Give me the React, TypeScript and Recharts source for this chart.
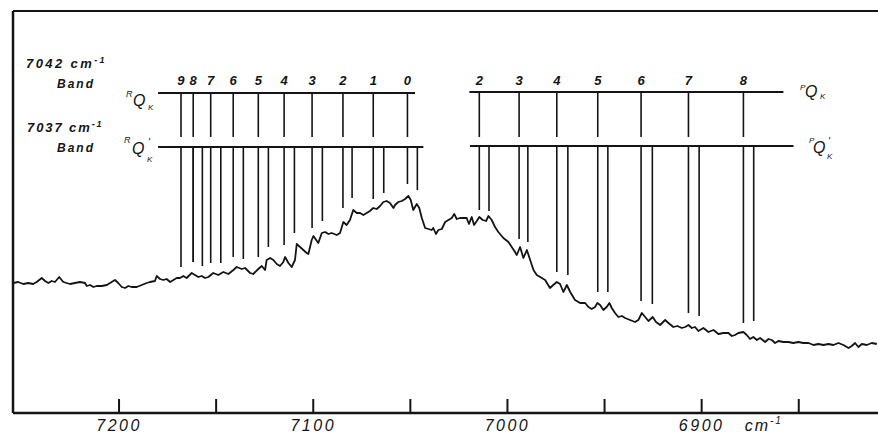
import React from 'react';
import { ComposedChart, Line, XAxis, YAxis, ReferenceLine, ReferenceDot } from 'recharts';

// spectrum (wavenumber in cm-1, signal in arbitrary units)
const WAVENUMBER = [
  7254.5, 7251.9, 7249.3, 7246.7, 7244.2, 7242.4, 7239.8, 7238.1, 7236.4, 7234.7, 7233.0, 7230.8, 7228.7, 7227.0,
  7225.2, 7222.7, 7220.1, 7217.5, 7216.6, 7214.9, 7213.2, 7211.5, 7208.9, 7206.3, 7203.8, 7202.1, 7200.4, 7198.6,
  7196.9, 7195.2, 7193.5, 7190.9, 7188.3, 7185.8, 7184.1, 7181.5, 7180.6, 7178.9, 7177.2, 7175.5, 7173.7, 7172.0,
  7170.3, 7168.6, 7166.9, 7165.2, 7162.6, 7160.9, 7159.2, 7157.4, 7155.7,
  7154.0, 7151.5, 7148.9, 7146.3, 7143.7, 7141.1, 7139.4, 7136.8, 7135.1, 7132.5, 7130.9, 7128.3, 7126.5, 7124.8,
  7124.0, 7122.2, 7120.5, 7118.8, 7117.1, 7115.4, 7114.5, 7112.8, 7111.1, 7109.4, 7108.5, 7106.8, 7105.1, 7103.4,
  7102.5, 7100.8, 7099.9, 7097.4, 7095.6, 7093.9, 7092.2, 7090.5, 7087.9, 7086.2, 7084.5, 7082.8, 7081.1, 7079.4,
  7077.6, 7075.9, 7074.2, 7072.5, 7070.8, 7069.1, 7067.3, 7065.6, 7063.9, 7062.2, 7060.5, 7058.7, 7057.9, 7056.2,
  7054.4, 7052.7, 7051.0, 7049.8, 7048.5, 7046.7, 7045.4, 7044.1, 7042.4, 7040.7, 7039.0, 7038.2, 7036.8, 7035.6,
  7033.8, 7032.1, 7030.4, 7028.7, 7027.4, 7026.1, 7024.4, 7022.7, 7021.0, 7019.8, 7018.4, 7017.2, 7015.8, 7014.5,
  7012.7, 7011.0, 7009.8, 7008.1, 7006.4, 7004.7, 7002.1, 6999.5, 6997.8, 6996.1, 6995.2, 6993.5, 6991.8, 6990.0,
  6988.3, 6986.6, 6984.9, 6982.3, 6980.6, 6978.1, 6976.4, 6974.6, 6972.9, 6971.2, 6969.4, 6967.7, 6965.2,
  6962.6, 6960.0, 6958.3, 6956.6, 6954.9, 6953.7, 6952.3, 6950.6, 6948.9, 6947.5, 6946.3, 6944.6, 6942.9, 6941.1,
  6939.4, 6936.9, 6934.3, 6932.6, 6930.8, 6929.1, 6927.4, 6925.2, 6923.5, 6921.4, 6918.8, 6917.1, 6914.6, 6912.5,
  6910.2, 6908.5, 6906.8, 6905.1, 6903.4, 6901.7, 6899.1, 6896.5, 6893.9, 6891.4, 6888.8,
  6886.2, 6884.5, 6882.8, 6881.1, 6878.5, 6876.8, 6875.1, 6873.4, 6871.6, 6869.9, 6867.3, 6865.6, 6863.9, 6862.2,
  6860.5, 6857.9, 6855.3, 6852.8, 6850.2, 6847.6, 6845.0, 6842.4, 6839.9, 6837.3, 6834.7, 6832.2, 6829.6, 6827.0,
  6824.4, 6822.7, 6821.0, 6819.3, 6817.5, 6815.0, 6812.4, 6809.8,
];
const SIGNAL = [
  130, 131, 129, 130, 129, 131, 135, 132, 130, 132, 131, 136, 131, 130,
  129, 130, 131, 130, 127, 128, 126, 127, 127, 128, 131, 133, 130, 126,
  125, 127, 126, 126, 128, 130, 131, 132, 137, 134, 133, 134, 131, 133,
  135, 135, 137, 135, 140, 138, 136, 137, 135,
  136, 140, 138, 141, 139, 143, 146, 144, 145, 140, 139, 144, 147, 143,
  153, 155, 153, 149, 147, 151, 156, 150, 146, 153, 169, 166, 163, 160,
  159, 173, 177, 170, 180, 181, 179, 180, 178, 180, 191, 188, 193, 203,
  200, 200, 198, 200, 202, 205, 204, 207, 211, 212, 210, 205, 208, 211,
  212, 214, 217, 213, 203, 209, 205, 195, 185, 184, 183, 185, 179, 183,
  184, 191, 193, 195, 199, 194, 195, 195, 195, 189, 196, 188, 192, 196,
  193, 192, 197, 193, 186, 181, 175, 171, 166, 161, 158, 166, 155, 163,
  153, 143, 138, 135, 133, 125, 128, 131, 129, 121, 128, 121, 113,
  110, 110, 106, 104, 106, 110, 108, 103, 106, 110, 105, 100, 96, 97,
  95, 93, 91, 93, 100, 96, 92, 96, 91, 88, 93, 90, 86, 87,
  85, 86, 88, 85, 86, 82, 85, 81, 83, 79, 80,
  80, 77, 78, 80, 81, 78, 74, 76, 73, 75, 71, 74, 73, 70,
  72, 71, 71, 70, 71, 70, 70, 68, 69, 68, 69, 68, 70, 68,
  65, 67, 70, 66, 69, 68, 70, 69,
];

const X_DOMAIN = [6809.2, 7254.6];
const TICK_MARKS = [7200, 7150, 7100, 7050, 7000, 6950, 6900, 6850];
const TICK_LABELS = [7200, 7100, 7000, 6900];

// R branch (left), K = 9 ... 0
const R_K = [9, 8, 7, 6, 5, 4, 3, 2, 1, 0];
const R_LINES_7042 = [7168.1, 7161.8, 7152.8, 7141.2, 7128.3, 7115.0, 7100.6, 7084.7, 7069.1, 7051.5];
const R_LINES_7037 = [7161.8, 7157.1, 7147.6, 7136.0, 7123.1, 7109.7, 7095.3, 7080.0, 7063.7, 7046.4];
const R_END_7042 = [146, 151, 150, 156, 156, 168, 185, 205, 214, 229];
const R_END_7037 = [151, 147, 150, 154, 166, 180, 192, 215, 220, 223];

// P branch (right), K = 2 ... 8
const P_K = [2, 3, 4, 5, 6, 7, 8];
const P_LINES_7042 = [7014.5, 6994.0, 6974.6, 6953.5, 6931.2, 6906.8, 6878.5];
const P_LINES_7037 = [7009.5, 6989.5, 6968.9, 6948.3, 6925.4, 6901.3, 6873.2];
const P_END_7042 = [203, 174, 141, 121, 112, 100, 90];
const P_END_7037 = [202, 171, 138, 121, 109, 97, 92];

// annotation bar levels and extents (same units as the chart)
const BAR_UPPER = 320;
const BAR_UPPER_TICK_END = 276;
const BAR_LOWER = 266;
const K_LABEL_LEVEL = 333;
const R_BAR_UPPER = [7179.9, 7047.6];
const R_BAR_LOWER = [7179.9, 7043.3];
const P_BAR_UPPER = [7019.6, 6857.9];
const P_BAR_LOWER = [7019.3, 6852.7];

const data = WAVENUMBER.map((cm, i) => ({ cm, signal: SIGNAL[i] }));

const FONT = '"Liberation Sans", "DejaVu Sans", Arial, sans-serif';
const INK = '#141414';

const AxisTick = ({ x, y, payload }: any) => (
  <g>
    <text x={x} y={y + 18} textAnchor="middle" fontFamily={FONT} fontStyle="italic" fontSize={16}
      letterSpacing={2.5} fill={INK}>{payload.value}</text>
    {payload.value === 6900 && (
      <text x={x + 43} y={y + 18} fontFamily={FONT} fontStyle="italic" fontSize={16} letterSpacing={2} fill={INK}>
        cm<tspan dy={-7} fontSize={10}>-1</tspan>
      </text>
    )}
  </g>
);

const kLabel = (k: number) => (p: any) => (
  <text x={p.cx} y={p.cy + 5} textAnchor="middle" fontFamily={FONT} fontStyle="italic" fontWeight={700}
    fontSize={13} fill={INK}>{k}</text>
);

const seg = (key: string, x1: number, y1: number, x2: number, y2: number, w = 1.6) => (
  <ReferenceLine key={key} segment={[{ x: x1, y: y1 }, { x: x2, y: y2 }]} stroke={INK} strokeWidth={w} />
);

const t = { fontFamily: FONT, fontStyle: 'italic' as const, fill: INK };

export default function App() {
  return (
    <div style={{ position: 'absolute', left: 0, top: 0, width: 878, height: 435, background: '#fff' }}>
      <ComposedChart width={878} height={435} data={data} margin={{ top: 11, right: 0, bottom: 0, left: 13 }}>
        <XAxis dataKey="cm" type="number" domain={X_DOMAIN} reversed allowDataOverflow height={22}
          ticks={TICK_LABELS} interval={0} tickLine={false} tickSize={0} tickMargin={0}
          axisLine={{ stroke: INK, strokeWidth: 2.5 }} tick={<AxisTick />} />
        <YAxis type="number" domain={[0, 402]} allowDataOverflow width={0} tick={false} tickLine={false}
          axisLine={false} />
        <ReferenceLine y={402} stroke={INK} strokeWidth={2} />
        <ReferenceLine x={X_DOMAIN[1]} stroke={INK} strokeWidth={2.5} />
        {TICK_MARKS.map((v) => seg(`tm${v}`, v, 0, v, 14, 2))}

        {seg('rbu', R_BAR_UPPER[0], BAR_UPPER, R_BAR_UPPER[1], BAR_UPPER, 1.8)}
        {seg('rbl', R_BAR_LOWER[0], BAR_LOWER, R_BAR_LOWER[1], BAR_LOWER, 1.8)}
        {seg('pbu', P_BAR_UPPER[0], BAR_UPPER + 1, P_BAR_UPPER[1], BAR_UPPER + 1, 1.8)}
        {seg('pbl', P_BAR_LOWER[0], BAR_LOWER + 1, P_BAR_LOWER[1], BAR_LOWER + 1, 1.8)}

        {R_LINES_7042.map((v, i) => seg(`ru${i}`, v, BAR_UPPER, v, BAR_UPPER_TICK_END))}
        {R_LINES_7042.map((v, i) => seg(`rl${i}`, v, BAR_LOWER, v, R_END_7042[i]))}
        {R_LINES_7037.map((v, i) => seg(`rm${i}`, v, BAR_LOWER, v, R_END_7037[i]))}
        {P_LINES_7042.map((v, i) => seg(`pu${i}`, v, BAR_UPPER + 1, v, BAR_UPPER_TICK_END))}
        {P_LINES_7042.map((v, i) => seg(`pl${i}`, v, BAR_LOWER + 1, v, P_END_7042[i]))}
        {P_LINES_7037.map((v, i) => seg(`pm${i}`, v, BAR_LOWER + 1, v, P_END_7037[i]))}

        {R_K.map((k, i) => (
          <ReferenceDot key={`rk${k}`} x={R_LINES_7042[i]} y={K_LABEL_LEVEL} r={0} shape={kLabel(k)} />
        ))}
        {P_K.map((k, i) => (
          <ReferenceDot key={`pk${k}`} x={P_LINES_7042[i]} y={K_LABEL_LEVEL} r={0} shape={kLabel(k)} />
        ))}

        <Line dataKey="signal" type="linear" dot={false} stroke={INK} strokeWidth={1.8}
          strokeLinejoin="round" isAnimationActive={false} />
      </ComposedChart>

      <svg width={878} height={435} style={{ position: 'absolute', left: 0, top: 0, pointerEvents: 'none' }}>
        <text x={26} y={68} fontSize={13} fontWeight={700} letterSpacing={2.4} {...t}>
          7042 cm<tspan dy={-5} fontSize={9}>-1</tspan>
        </text>
        <text x={57} y={88} fontSize={12} fontWeight={700} letterSpacing={2} {...t}>Band</text>
        <text x={27} y={132} fontSize={13} fontWeight={700} letterSpacing={1.9} {...t}>
          7037 cm<tspan dy={-5} fontSize={9}>-1</tspan>
        </text>
        <text x={57} y={152} fontSize={12} fontWeight={700} letterSpacing={2} {...t}>Band</text>

        <text x={126} y={97} fontSize={9} {...t}>R</text>
        <text x={133} y={106} fontSize={16} {...t}>Q</text>
        <text x={148} y={110} fontSize={8} {...t}>K</text>

        <text x={124} y={143} fontSize={9} {...t}>R</text>
        <text x={132} y={154} fontSize={16} {...t}>Q</text>
        <text x={148} y={146} fontSize={10} {...t}>'</text>
        <text x={147} y={162} fontSize={8} {...t}>K</text>

        <text x={800} y={90} fontSize={8} {...t}>P</text>
        <text x={805} y={97} fontSize={16} {...t}>Q</text>
        <text x={820} y={99} fontSize={8} {...t}>K</text>

        <text x={809} y={143} fontSize={8} {...t}>P</text>
        <text x={813} y={153} fontSize={16} {...t}>Q</text>
        <text x={828} y={145} fontSize={10} {...t}>'</text>
        <text x={827} y={159} fontSize={8} {...t}>K</text>
      </svg>
    </div>
  );
}
